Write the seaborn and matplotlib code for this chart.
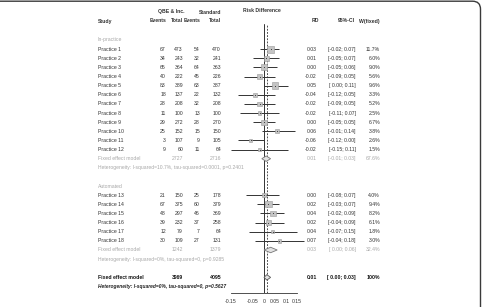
import numpy as np
import pandas as pd
import matplotlib
matplotlib.use("Agg")
import matplotlib.pyplot as plt
from matplotlib.patches import FancyBboxPatch
import seaborn as sns

studies = ["Practice %d" % i for i in range(1, 19)]
group = ["In-practice"] * 12 + ["Automated"] * 6
qbe_events = [67, 34, 65, 40, 83, 18, 28, 11, 29, 25, 3, 9, 21, 67, 48, 39, 12, 30]
qbe_total = [473, 243, 364, 222, 389, 137, 208, 100, 272, 152, 107, 60, 150, 375, 297, 232, 79, 109]
std_events = [54, 32, 64, 45, 63, 22, 32, 13, 28, 15, 9, 11, 25, 60, 46, 37, 7, 27]
std_total = [470, 241, 363, 226, 387, 132, 208, 100, 270, 150, 105, 64, 178, 379, 369, 258, 64, 131]
rd = [0.03, 0.01, 0.00, -0.02, 0.05, -0.04, -0.02, -0.02, 0.00, 0.06, -0.06, -0.02,
      0.00, 0.02, 0.04, 0.02, 0.04, 0.07]
ci_lo = [-0.02, -0.05, -0.05, -0.09, 0.00, -0.12, -0.09, -0.11, -0.05, -0.01, -0.12, -0.15,
         -0.08, -0.03, -0.02, -0.04, -0.07, -0.04]
ci_hi = [0.07, 0.07, 0.06, 0.05, 0.11, 0.05, 0.05, 0.07, 0.05, 0.14, 0.00, 0.11,
         0.07, 0.07, 0.09, 0.09, 0.15, 0.18]
weight = [11.7, 6.0, 9.0, 5.6, 9.6, 3.3, 5.2, 2.5, 6.7, 3.8, 2.6, 1.5,
          4.0, 9.4, 8.2, 6.1, 1.8, 3.0]

# subgroup / overall summaries
sub_names = ["In-practice", "Automated"]
sub_qbe_total = [2727, 1242]
sub_std_total = [2716, 1379]
sub_rd = [0.01, 0.03]
sub_lo = [-0.01, 0.00]
sub_hi = [0.03, 0.06]
sub_w = ["67.6%", "32.4%"]
sub_het = ["Heterogeneity: I-squared=10.7%, tau-squared=0.0001, p=0.2401",
           "Heterogeneity: I-squared=0%, tau-squared=0, p=0.9285"]
all_qbe_total = 3969
all_std_total = 4095
all_rd, all_lo, all_hi = 0.013, 0.00, 0.03
all_het = "Heterogeneity: I-squared=0%, tau-squared=0, p=0.5627"
ticks = [-0.15, -0.1, -0.05, 0, 0.05, 0.1, 0.15]
tick_labels = ["-0.15", "", "-0.05", "0", "0.05", "0.1", "0.15"]

# row layout: 12 in-practice rows, fixed, het, gap, label, 6 automated, fixed, het, gap, overall, het
study_rows = list(range(1, 13)) + list(range(17, 23))
sub_label_rows = [0, 16]
sub_fixed_rows = [13, 23]
all_row = 26

df = pd.DataFrame({"study": studies, "group": group, "rd": rd, "lo": ci_lo, "hi": ci_hi,
                   "w": weight, "row": study_rows})

W, H = 482, 307
fig = plt.figure(figsize=(W / 100, H / 100), dpi=100)
sns.set_style("white")
plt.rcParams["font.family"] = ["Liberation Sans", "DejaVu Sans"]

ax = fig.add_axes([0, 0, 1, 1])
ax.set_xlim(0, W)
ax.set_ylim(H, 0)
ax.axis("off")

def row_y(r):
    return 40 + 9.13 * r

FS = 3.7
TXT = "#333333"
GREY = "#a8a8a8"

# frame (only top and right edges fall inside the picture)
frame = FancyBboxPatch((-12, 1.2), 492.5, 320, boxstyle="round,pad=0,rounding_size=8",
                       fill=False, edgecolor="#3a3a3a", linewidth=1.0,
                       transform=ax.transData, clip_on=True)
ax.add_patch(frame)

# headers
ax.text(98, 21, "Study", fontsize=FS, color=TXT, va="center", fontweight="bold")
ax.text(185, 12, "QBE & Inc.", fontsize=FS, color=TXT, va="center", ha="right", fontweight="bold")
ax.text(221, 12, "Standard", fontsize=FS, color=TXT, va="center", ha="right", fontweight="bold")
for xr, lab in zip([167, 183, 201, 221], ["Events", "Total", "Events", "Total"]):
    ax.text(xr, 21, lab, fontsize=FS, color=TXT, va="center", ha="right", fontweight="bold")
ax.text(243, 10, "Risk Difference", fontsize=FS, color=TXT, va="center", fontweight="bold")
ax.text(319, 21, "RD", fontsize=FS, color=TXT, va="center", ha="right", fontweight="bold")
ax.text(355, 21, "95%-CI", fontsize=FS, color=TXT, va="center", ha="right", fontweight="bold")
ax.text(380, 21, "W(fixed)", fontsize=FS, color=TXT, va="center", ha="right", fontweight="bold")

def ci_str(lo, hi):
    return "[%s; %s]" % (("%.2f" % lo) if lo < 0 else (" %.2f" % lo), "%.2f" % hi)

def row_text(y, name, c1, c2, c3, c4, est, lo, hi, w, color, weight="normal"):
    ax.text(98, y, name, fontsize=FS, color=color, va="center", fontweight=weight)
    for xr, v in zip([166, 183, 200, 221], [c1, c2, c3, c4]):
        if v != "":
            ax.text(xr, y, str(v), fontsize=FS, color=color, va="center", ha="right", fontweight=weight)
    ax.text(317, y, "%.2f" % est, fontsize=FS, color=color, va="center", ha="right", fontweight=weight)
    ax.text(356, y, ci_str(lo, hi), fontsize=FS, color=color, va="center", ha="right", fontweight=weight)
    ax.text(380, y, w, fontsize=FS, color=color, va="center", ha="right", fontweight=weight)

for i, r in df.iterrows():
    row_text(row_y(r["row"]), r["study"], qbe_events[i], qbe_total[i], std_events[i], std_total[i],
             r["rd"], r["lo"], r["hi"], "%.1f%%" % r["w"], TXT)

for k in range(2):
    ax.text(98, row_y(sub_label_rows[k]), sub_names[k], fontsize=FS, color=GREY, va="center")
    row_text(row_y(sub_fixed_rows[k]), "Fixed effect model", "", sub_qbe_total[k], "", sub_std_total[k],
             sub_rd[k], sub_lo[k], sub_hi[k], sub_w[k], GREY)
    ax.text(98, row_y(sub_fixed_rows[k] + 1), sub_het[k], fontsize=3.6, color=GREY, va="center")

row_text(row_y(all_row), "Fixed effect model", "", all_qbe_total, "", all_std_total,
         0.01, all_lo, all_hi, "100%", "#111111", weight="bold")
ax.text(98, row_y(all_row + 1), all_het, fontsize=3.5, color="#222222", va="center",
        fontweight="bold", style="italic")

# forest panel
px_l, px_r, px_t, px_b = 225, 310, 24, 293
zero_px, scale = 264, 220
fx = fig.add_axes([px_l / W, 1 - px_b / H, (px_r - px_l) / W, (px_b - px_t) / H])
fx.set_xlim((px_l - zero_px) / scale, (px_r - zero_px) / scale)
fx.set_ylim((px_b - 40) / 9.13, (px_t - 40) / 9.13)
fx.patch.set_alpha(0)
for s in ["top", "right", "left"]:
    fx.spines[s].set_visible(False)
fx.spines["bottom"].set_bounds(-0.15, 0.15)
fx.spines["bottom"].set_linewidth(0.6)
fx.spines["bottom"].set_color("#333333")
fx.set_yticks([])
fx.set_xticks(ticks)
fx.set_xticklabels(tick_labels, fontsize=FS, color=TXT)
fx.tick_params(axis="x", length=2.3, width=0.6, pad=1.8, color="#333333")

fx.axvline(0, color="#333333", lw=0.7)
fx.axvline(all_rd, color="#333333", lw=0.6, ls=(0, (2.2, 1.6)))

fx.hlines(df["row"], df["lo"], df["hi"], color="#333333", lw=0.7)
sns.scatterplot(data=df, x="rd", y="row", size="w", sizes=(0, 25.4), size_norm=(0, 11.7),
                marker="s", color="#c4c4c4", edgecolor="#9a9a9a", linewidth=0.4,
                legend=False, ax=fx, zorder=3)
fx.scatter(df["rd"], df["row"], s=0.6, color="#333333", zorder=4, linewidths=0)

def diamond(est, lo, hi, r, ec):
    fx.fill([lo, est, hi, est], [r, r - 0.3, r, r + 0.3], facecolor="#e2e2e2", edgecolor=ec,
            lw=0.6, zorder=3)

for k in range(2):
    diamond(sub_rd[k], sub_lo[k], sub_hi[k], sub_fixed_rows[k], "#777777")
diamond(all_rd, all_lo, all_hi, all_row, "#555555")
fx.set_xlabel("")
fx.set_ylabel("")

fig.savefig("out.png", dpi=100)
